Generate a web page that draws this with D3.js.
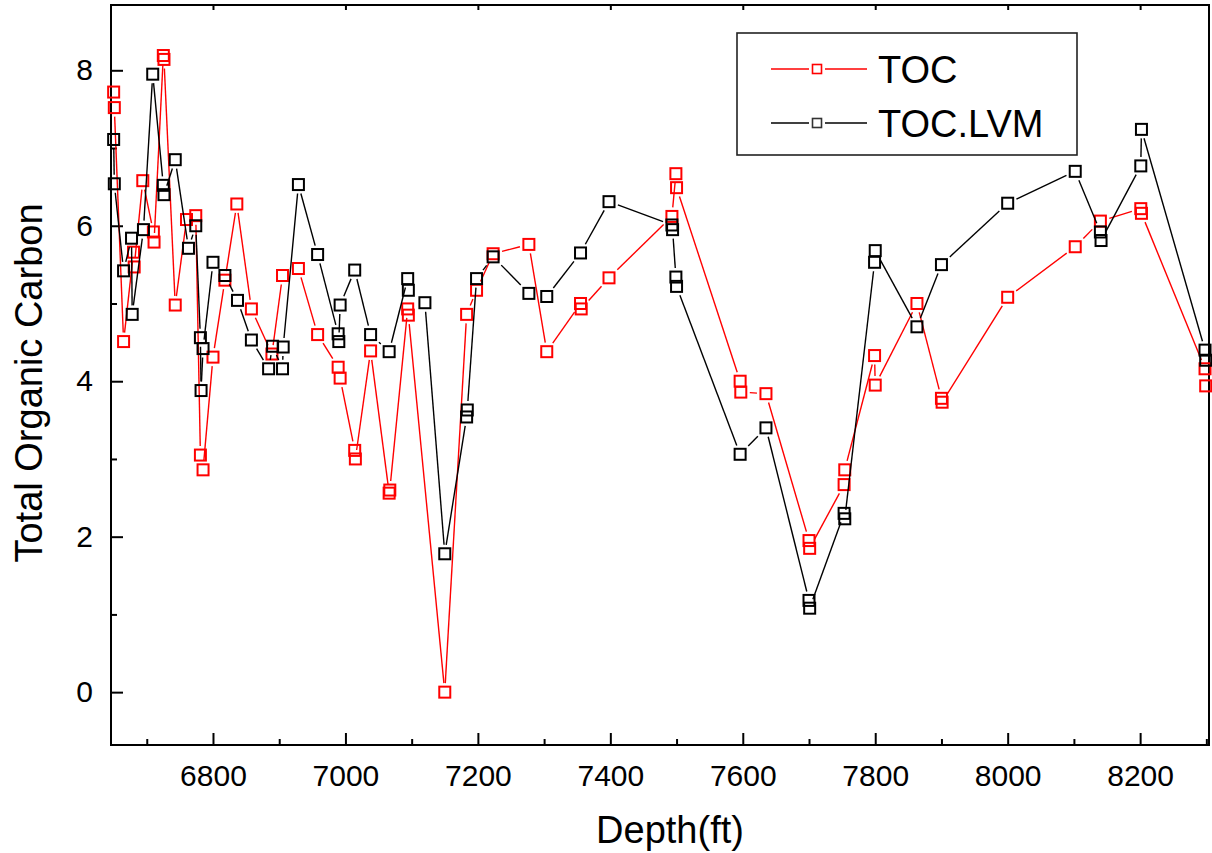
<!DOCTYPE html>
<html>
<head>
<meta charset="utf-8">
<script src="https://cdn.jsdelivr.net/npm/d3@7"></script>
<style>
    body { margin: 0; background: #fff; }
    text { font-family: "Liberation Sans", Arial, sans-serif; fill: #000; }
</style>
</head>
<body>
<div id="chart"></div>
<script>
// depth (ft) and measured TOC
var tocDepth = [6650, 6651, 6665, 6680, 6681, 6694, 6710, 6711, 6725, 6726, 6743, 6760, 6774, 6781, 6785,
    6800, 6818, 6836, 6858, 6889, 6905, 6929, 6958, 6989, 6992, 7014, 7015, 7038, 7066, 7067,
    7094, 7095, 7150, 7183, 7198, 7223, 7277, 7304, 7355, 7356, 7398, 7493, 7499, 7500, 7596,
    7597, 7635, 7700, 7701, 7753, 7754, 7799, 7800, 7863, 7900, 7901, 8000, 8102, 8140, 8201,
    8202, 8298, 8299];
var toc = [7.72, 7.52, 4.51, 5.66, 5.47, 6.58, 5.92, 5.79, 8.19, 8.14, 4.98, 6.08, 6.13, 3.05, 2.86,
    4.31, 5.30, 6.28, 4.93, 4.35, 5.36, 5.45, 4.60, 4.18, 4.04, 3.11, 3.00, 4.39, 2.56, 2.60,
    4.93, 4.85, 0.00, 4.86, 5.17, 5.64, 5.76, 4.38, 5.00, 4.93, 5.33, 6.12, 6.67, 6.49, 4.00,
    3.86, 3.84, 1.95, 1.85, 2.67, 2.86, 4.33, 3.95, 5.00, 3.78, 3.73, 5.08, 5.73, 6.06, 6.22,
    6.16, 4.16, 3.94];

// depth (ft) and TOC predicted by LVM
var lvmDepth = [6650, 6651, 6665, 6677, 6678, 6695, 6709, 6725, 6726, 6743, 6763, 6774, 6781, 6782, 6785,
    6800, 6818, 6837, 6858, 6884, 6890, 6905, 6906, 6929, 6958, 6989, 6990, 6992, 7014, 7038,
    7066, 7094, 7095, 7120, 7150, 7183, 7184, 7198, 7223, 7277, 7304, 7355, 7398, 7493, 7494,
    7499, 7500, 7596, 7635, 7700, 7701, 7753, 7754, 7799, 7800, 7863, 7900, 8000, 8102, 8140,
    8141, 8201, 8202, 8298, 8299];
var tocLvm = [7.11, 6.54, 5.42, 5.84, 4.86, 5.95, 7.95, 6.52, 6.40, 6.85, 5.71, 6.00, 4.56, 3.88, 4.42,
    5.53, 5.36, 5.04, 4.53, 4.16, 4.45, 4.16, 4.44, 6.53, 5.63, 4.61, 4.51, 4.98, 5.43, 4.60,
    4.38, 5.32, 5.17, 5.01, 1.78, 3.54, 3.63, 5.32, 5.60, 5.13, 5.09, 5.65, 6.31, 6.01, 5.95,
    5.34, 5.22, 3.06, 3.40, 1.18, 1.08, 2.30, 2.23, 5.53, 5.68, 4.70, 5.50, 6.29, 6.70, 5.92,
    5.81, 6.77, 7.24, 4.40, 4.27];

var xMajor = [6800, 7000, 7200, 7400, 7600, 7800, 8000, 8200];
var xMinor = [6700, 6900, 7100, 7300, 7500, 7700, 7900, 8100, 8300];
var yMajor = [0, 2, 4, 6, 8];
var yMinor = [1, 3, 5, 7];

var seriesNames = ["TOC", "TOC.LVM"];
var seriesColors = ["#ff0000", "#000000"];

var width = 1212,
    height = 853;

var svg = d3.select("#chart")
    .append("svg")
    .attr("width", width)
    .attr("height", height)

var x = d3.scaleLinear().domain([6646, 8304]).range([111, 1209]);
var y = d3.scaleLinear().domain([-0.68, 8.84]).range([745, 5]);

// ticks (all pointing inward)
svg.append("g")
    .attr("transform", "translate(0,745)")
    .call(d3.axisBottom(x).tickValues(xMajor).tickSizeInner(-12).tickSizeOuter(0).tickPadding(20).tickFormat(d3.format("d")))
    .call(g => g.select(".domain").remove())
    .call(g => g.selectAll("text").attr("font-size", "30px").attr("font-family", null));

svg.append("g")
    .attr("transform", "translate(0,745)")
    .call(d3.axisBottom(x).tickValues(xMinor).tickSizeInner(-6).tickSizeOuter(0).tickFormat(""))
    .call(g => g.select(".domain").remove());

svg.append("g")
    .attr("transform", "translate(0,5)")
    .call(d3.axisTop(x).tickValues(xMajor).tickSizeInner(-5).tickSizeOuter(0).tickFormat(""))
    .call(g => g.select(".domain").remove());

svg.append("g")
    .attr("transform", "translate(111,0)")
    .call(d3.axisLeft(y).tickValues(yMajor).tickSizeInner(-12).tickSizeOuter(0).tickPadding(18))
    .call(g => g.select(".domain").remove())
    .call(g => g.selectAll("text").attr("font-size", "30px").attr("font-family", null));

svg.append("g")
    .attr("transform", "translate(111,0)")
    .call(d3.axisLeft(y).tickValues(yMinor).tickSizeInner(-6).tickSizeOuter(0).tickFormat(""))
    .call(g => g.select(".domain").remove());

svg.selectAll(".tick line").attr("stroke", "#000").attr("stroke-width", 2);

// frame
svg.append("rect")
    .attr("x", x.range()[0])
    .attr("y", y.range()[1])
    .attr("width", x.range()[1] - x.range()[0])
    .attr("height", y.range()[0] - y.range()[1])
    .attr("fill", "none")
    .attr("stroke", "#000")
    .attr("stroke-width", 2);

// line segments stop short of the symbols, like Origin does
var half = 6.5,
    gap = 2.5;

function gapSegments(depths, values) {
    var pts = depths.map((d, i) => [x(d), y(values[i])]);
    var segs = [];
    for (var i = 0; i < pts.length - 1; i++) {
        var a = pts[i],
            b = pts[i + 1];
        var dx = b[0] - a[0],
            dy = b[1] - a[1];
        var len = Math.sqrt(dx * dx + dy * dy);
        if (len == 0) continue;
        var ux = dx / len,
            uy = dy / len;
        var cut = half / Math.max(Math.abs(ux), Math.abs(uy)) + gap;
        if (len <= 2 * cut) continue;
        segs.push([a[0] + ux * cut, a[1] + uy * cut, b[0] - ux * cut, b[1] - uy * cut]);
    }
    return segs;
}

function drawSeries(depths, values, color) {
    var g = svg.append("g");

    g.selectAll("line")
        .data(gapSegments(depths, values))
        .enter()
        .append("line")
        .attr("x1", d => d[0])
        .attr("y1", d => d[1])
        .attr("x2", d => d[2])
        .attr("y2", d => d[3])
        .attr("stroke", color)
        .attr("stroke-width", 1.4);

    g.selectAll("rect")
        .data(depths)
        .enter()
        .append("rect")
        .attr("x", (d, i) => x(d) - 5.5)
        .attr("y", (d, i) => y(values[i]) - 5.5)
        .attr("width", 11)
        .attr("height", 11)
        .attr("fill", "none")
        .attr("stroke", color)
        .attr("stroke-width", 2);
}

drawSeries(tocDepth, toc, seriesColors[0]);
drawSeries(lvmDepth, tocLvm, seriesColors[1]);

// axis titles
svg.append("text")
    .attr("x", 670)
    .attr("y", 843)
    .attr("text-anchor", "middle")
    .attr("font-size", "38px")
    .text("Depth(ft)");

svg.append("text")
    .attr("transform", "translate(42,383) rotate(-90)")
    .attr("text-anchor", "middle")
    .attr("font-size", "38px")
    .text("Total Organic Carbon");

// legend
var legend = svg.append("g")
    .attr("class", "legend");

legend.append("rect")
    .attr("x", 737)
    .attr("y", 33)
    .attr("width", 340)
    .attr("height", 122)
    .attr("fill", "#fff")
    .attr("stroke", "#222")
    .attr("stroke-width", 1.6);

var items = legend.selectAll("g")
    .data(seriesNames)
    .enter()
    .append("g")
    .attr("transform", (d, i) => "translate(0," + (69 + i * 54) + ")");

items.append("line")
    .attr("x1", 771).attr("x2", 809)
    .attr("stroke", (d, i) => seriesColors[i])
    .attr("stroke-width", 1.5);

items.append("line")
    .attr("x1", 825).attr("x2", 867)
    .attr("stroke", (d, i) => seriesColors[i])
    .attr("stroke-width", 1.5);

items.append("rect")
    .attr("x", 812.5).attr("y", -4.5)
    .attr("width", 9).attr("height", 9)
    .attr("fill", "none")
    .attr("stroke", (d, i) => i == 0 ? seriesColors[0] : "#333")
    .attr("stroke-width", 1.6);

items.append("text")
    .attr("x", 878)
    .attr("y", 14)
    .attr("font-size", "38px")
    .text(d => d);
</script>
</body>
</html>
